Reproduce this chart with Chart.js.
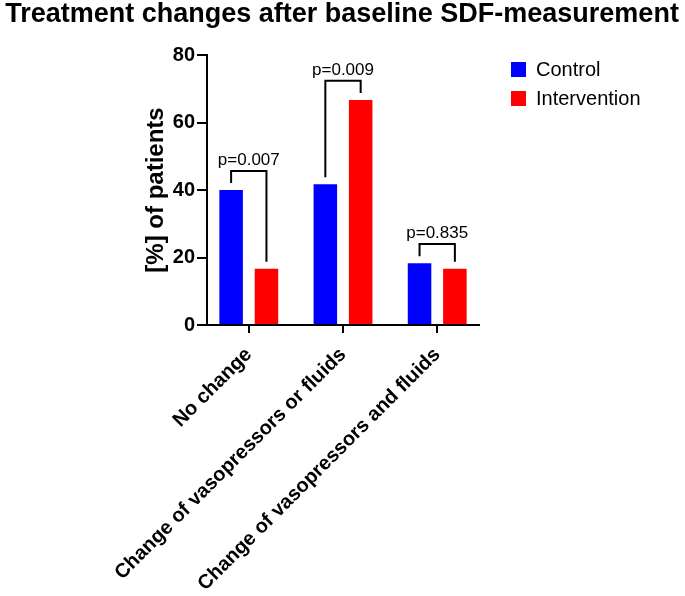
<!DOCTYPE html>
<html>
<head>
<meta charset="utf-8">
<script src="https://cdn.jsdelivr.net/npm/chart.js@4"></script>
<style>
  html, body { margin: 0; padding: 0; background: #fff; }
  #wrap { width: 685px; height: 596px; }
</style>
</head>
<body>
<div id="wrap"><canvas id="mainChart" width="685" height="596"></canvas></div>
<script>
'use strict';

const categories   = ['No change', 'Change of vasopressors or fluids', 'Change of vasopressors and fluids'];
const control      = [40.0, 41.7, 18.3];
const intervention = [16.7, 66.7, 16.7];
const pLabels      = ['p=0.007', 'p=0.009', 'p=0.835'];
const bracketTop   = [45.6, 72.4, 24.0];
const yTicks       = [0, 20, 40, 60, 80];
const chartTitle   = 'Treatment changes after baseline SDF-measurement';

const FONT = 'Liberation Sans, Arial, Helvetica, sans-serif';

const annotations = {
    id: 'annotations',
    afterDatasetsDraw(chart) {
        const { ctx, scales: { y } } = chart;
        const a = chart.getDatasetMeta(0).data;
        const b = chart.getDatasetMeta(1).data;
        ctx.save();
        ctx.strokeStyle = '#000';
        ctx.lineWidth = 2;
        ctx.fillStyle = '#000';
        ctx.font = '17px ' + FONT;
        ctx.textAlign = 'center';
        ctx.textBaseline = 'alphabetic';
        pLabels.forEach((txt, i) => {
            const yTop = y.getPixelForValue(bracketTop[i]);
            const x1 = a[i].x, x2 = b[i].x;
            ctx.beginPath();
            ctx.moveTo(x1, a[i].y - 7);
            ctx.lineTo(x1, yTop);
            ctx.lineTo(x2, yTop);
            ctx.lineTo(x2, b[i].y - 7);
            ctx.stroke();
            ctx.fillText(txt, (x1 + x2) / 2, yTop - 6);
        });
        ctx.restore();
    },
    afterDraw(chart) {
        const { ctx } = chart;
        ctx.save();
        // title
        ctx.fillStyle = '#000';
        ctx.font = 'bold 27px ' + FONT;
        ctx.textAlign = 'center';
        ctx.textBaseline = 'alphabetic';
        ctx.fillText(chartTitle, 342, 22);
        // legend
        ctx.font = '20px ' + FONT;
        ctx.textBaseline = 'middle';
        ctx.textAlign = 'left';
        chart.data.datasets.forEach((ds, i) => {
            const top = 62 + i * 29;
            ctx.fillStyle = ds.backgroundColor;
            ctx.fillRect(511, top, 15, 15);
            ctx.fillStyle = '#000';
            ctx.fillText(ds.label, 536, top + 8);
        });
        ctx.restore();
    },
};

new Chart(document.getElementById('mainChart'), {
    type: 'bar',
    data: {
        labels: categories,
        datasets: [
            { label: 'Control', data: control, backgroundColor: '#0000ff', borderWidth: 0 },
            { label: 'Intervention', data: intervention, backgroundColor: '#ff0000', borderWidth: 0 },
        ],
    },
    options: {
        responsive: false,
        animation: false,
        devicePixelRatio: 1,
        categoryPercentage: 0.75,
        barPercentage: 0.666,
        layout: { padding: { left: 142, right: 206, top: 55, bottom: 0 } },
        plugins: {
            legend: { display: false },
            tooltip: { enabled: false },
            title: { display: false },
        },
        scales: {
            x: {
                afterFit(axis) { axis.height = 271; },
                afterBuildTicks(axis) { axis._startValue = -0.4435; axis._valueRange = 2.887; },
                grid: { display: true, drawOnChartArea: false, offset: false, tickLength: 8, color: '#000', lineWidth: 2 },
                border: { display: true, color: '#000', width: 2 },
                ticks: {
                    color: '#000', minRotation: 45, maxRotation: 45, autoSkip: false, padding: 10,
                    font: { family: FONT, size: 20, weight: 'bold' },
                },
            },
            y: {
                min: 0, max: 80,
                afterFit(axis) { axis.width = 65; },
                afterBuildTicks(axis) { axis.ticks = yTicks.map(v => ({ value: v })); },
                grid: { display: true, drawOnChartArea: false, tickLength: 10, color: '#000', lineWidth: 2 },
                border: { display: true, color: '#000', width: 2 },
                ticks: { color: '#000', padding: 2, font: { family: FONT, size: 20, weight: 'bold' } },
                title: {
                    display: true, text: '[%] of patients', color: '#000',
                    font: { family: FONT, size: 24, weight: 'bold', lineHeight: 1.2 },
                    padding: { top: 0, bottom: 0 },
                },
            },
        },
    },
    plugins: [annotations],
});
</script>
</body>
</html>
